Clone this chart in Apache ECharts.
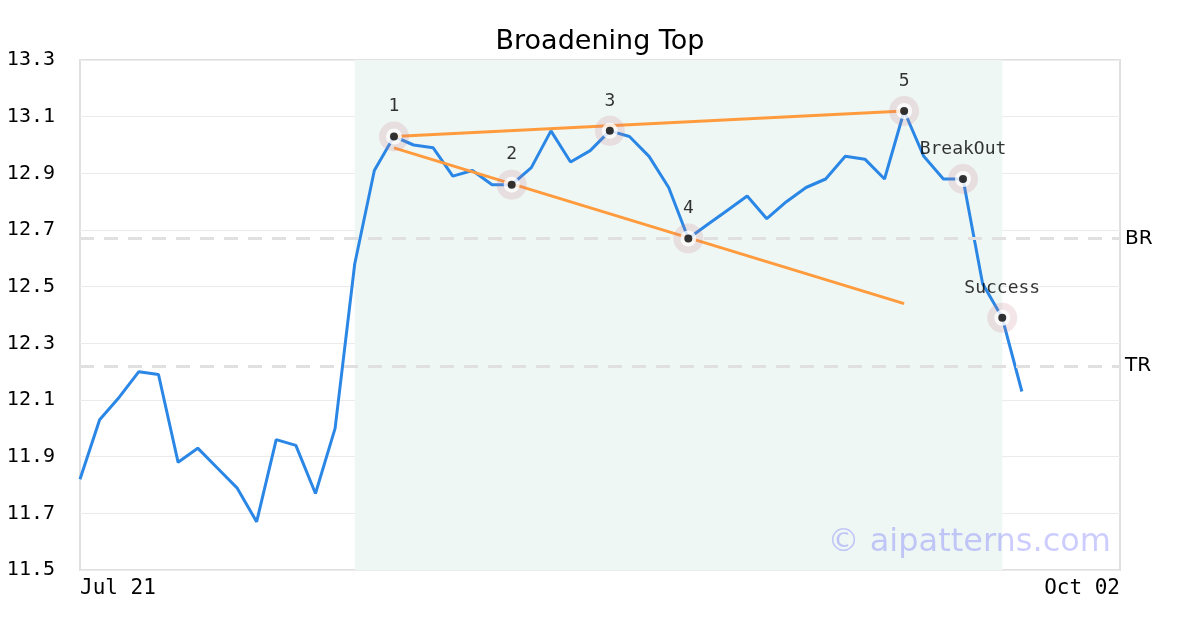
<!DOCTYPE html>
<html>
<head>
<meta charset="utf-8">
<script src="https://cdn.jsdelivr.net/npm/echarts@6/dist/echarts.min.js"></script>
<style>
html,body{margin:0;padding:0;background:#fff;}
#chart{width:1200px;height:630px;}
</style>
</head>
<body>
<div id="chart"></div>
<script>
const dates = [
  'Jul 21','Jul 22','Jul 23','Jul 24','Jul 25','Jul 28','Jul 29','Jul 30','Jul 31',
  'Aug 01','Aug 04','Aug 05','Aug 06','Aug 07','Aug 08','Aug 11','Aug 12','Aug 13','Aug 14','Aug 15',
  'Aug 18','Aug 19','Aug 20','Aug 21','Aug 22','Aug 25','Aug 26','Aug 27','Aug 28','Aug 29',
  'Sep 01','Sep 02','Sep 03','Sep 04','Sep 05','Sep 08','Sep 09','Sep 10','Sep 11','Sep 12',
  'Sep 15','Sep 16','Sep 17','Sep 18','Sep 19','Sep 22','Sep 23','Sep 24','Sep 25','Sep 26',
  'Sep 29','Sep 30','Oct 01','Oct 02'
];
const prices = [
  11.82, 12.03, 12.11, 12.20, 12.19, 11.88, 11.93, 11.86, 11.79, 11.67,
  11.96, 11.94, 11.77, 12.00, 12.58, 12.91, 13.03, 13.00, 12.99, 12.89,
  12.91, 12.86, 12.86, 12.92, 13.05, 12.94, 12.98, 13.05, 13.03, 12.96,
  12.85, 12.67, 12.72, 12.77, 12.82, 12.74, 12.80, 12.85, 12.88, 12.96,
  12.95, 12.88, 13.12, 12.96, 12.88, 12.88, 12.51, 12.39, 12.13
];
const yTicks = [11.5, 11.7, 11.9, 12.1, 12.3, 12.5, 12.7, 12.9, 13.1, 13.3];
const patternIdx = [16, 22, 27, 31, 42, 45, 47];
const patternLabels = ['1', '2', '3', '4', '5', 'BreakOut', 'Success'];
const upperTrend = [[16, 13.03], [42, 13.12]];
const lowerTrend = [[16, 12.99], [42, 12.44]];
const levelBR = 12.67;
const levelTR = 12.22;
const shadeStart = 14;
const shadeEnd = 47;

const pointData = patternIdx.map((i, k) => ({ value: [i, prices[i]], label: { formatter: patternLabels[k] } }));
const fullWidthPrices = dates.map((d, i) => (i < prices.length ? prices[i] : null));

const chart = echarts.init(document.getElementById('chart'), null, { renderer: 'canvas' });
const mono = 'DejaVu Sans Mono';
chart.setOption({
  animation: false,
  backgroundColor: '#ffffff',
  title: {
    text: 'Broadening Top', left: 'center', top: 23,
    textStyle: { fontFamily: 'DejaVu Sans', fontSize: 27, fontWeight: 'normal', color: '#000' }
  },
  grid: {
    left: 80, right: 80, top: 60, bottom: 60,
    show: true, borderColor: '#e0e0e0', borderWidth: 2, backgroundColor: 'transparent'
  },
  xAxis: {
    type: 'category', data: dates, boundaryGap: false,
    axisLine: { show: false }, axisTick: { show: false },
    splitLine: { show: false },
    axisLabel: {
      interval: (i) => i === 0 || i === dates.length - 1,
      showMinLabel: true, showMaxLabel: true,
      alignMinLabel: 'left', alignMaxLabel: 'right',
      fontFamily: mono, fontSize: 21, color: '#000', margin: 8
    }
  },
  yAxis: {
    type: 'value', min: yTicks[0], max: yTicks[yTicks.length - 1], interval: 0.2,
    axisLine: { show: false }, axisTick: { show: false },
    splitLine: { show: true, lineStyle: { color: '#ebebeb', width: 1 } },
    axisLabel: {
      formatter: (v) => v.toFixed(1),
      fontFamily: mono, fontSize: 20, color: '#000', margin: 25,
      padding: [4, 0, 0, 0]
    }
  },
  graphic: [{
    type: 'text', right: 89, bottom: 71, z: 100,
    style: { text: '© aipatterns.com', font: '32px "DejaVu Sans"', fill: 'rgba(0,0,255,0.2)' }
  }],
  series: [
    {
      type: 'line', data: fullWidthPrices, symbol: 'none', z: 3,
      lineStyle: { color: '#2b87e6', width: 3 },
      markArea: {
        silent: true,
        itemStyle: { color: '#eff7f4' },
        data: [[{ xAxis: dates[shadeStart] }, { xAxis: dates[shadeEnd] }]]
      },
      markLine: {
        silent: true, symbol: 'none',
        lineStyle: { color: '#e0e0e0', width: 3, type: [14, 10] },
        label: { position: 'end', distance: 5, fontFamily: 'DejaVu Sans', fontSize: 20, color: '#000', padding: [3, 0, 0, 0] },
        data: [
          { yAxis: levelBR, label: { formatter: 'BR' } },
          { yAxis: levelTR, label: { formatter: 'TR' } }
        ]
      }
    },
    {
      type: 'line', data: upperTrend, symbol: 'none', z: 4,
      lineStyle: { color: '#ff9b3d', width: 3 }
    },
    {
      type: 'line', data: lowerTrend, symbol: 'none', z: 4,
      lineStyle: { color: '#ff9b3d', width: 3 }
    },
    {
      type: 'scatter', data: pointData, symbol: 'circle', symbolSize: 30, z: 5,
      itemStyle: { color: 'rgba(200,120,140,0.24)' }, label: { show: false }
    },
    {
      type: 'scatter', data: pointData, symbol: 'circle', symbolSize: 16, z: 6,
      itemStyle: { color: '#ffffff' }, label: { show: false }
    },
    {
      type: 'scatter', data: pointData, symbol: 'circle', symbolSize: 8, z: 7,
      itemStyle: { color: '#000000' },
      label: { show: true, position: 'top', distance: 17, fontFamily: mono, fontSize: 18, color: '#000' }
    }
  ]
});
</script>
</body>
</html>
